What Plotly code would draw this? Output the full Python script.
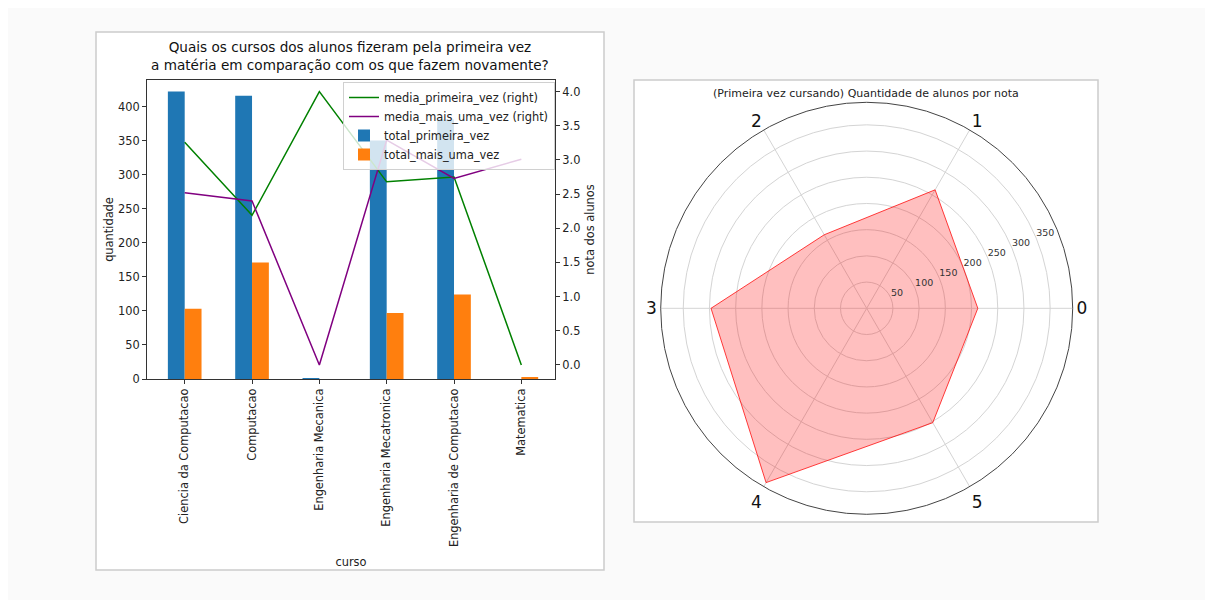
import plotly.graph_objects as go

# ---------------- data ----------------
cursos = ["Ciencia da Computacao", "Computacao", "Engenharia Mecanica",
          "Engenharia Mecatronica", "Engenharia de Computacao", "Matematica"]
total_primeira_vez = [422, 416, 1, 350, 381, 0]
total_mais_uma_vez = [103, 171, 0, 97, 124, 2]
media_primeira_vez = [3.26, 2.19, 4.0, 2.68, 2.75, 0.0]
media_mais_uma_vez = [2.52, 2.40, 0.0, 3.29, 2.73, 3.01]

notas = ["0", "1", "2", "3", "4", "5"]
qtd_por_nota = [212, 261, 162, 297, 384, 252]
radial_ticks = [50, 100, 150, 200, 250, 300, 350]

W, H = 1197, 592   # page window minus default body margin
OFF = 8
FONT = "DejaVu Sans"


def px(x):
    return (x - OFF) / W


def py(y):
    return 1 - (y - OFF) / H


xs = list(range(len(cursos)))
fig = go.Figure()

fig.add_trace(go.Scatter(x=xs, y=media_primeira_vez, name="media_primeira_vez (right)",
                         mode="lines", line=dict(color="green", width=1.5),
                         xaxis="x", yaxis="y2"))
fig.add_trace(go.Scatter(x=xs, y=media_mais_uma_vez, name="media_mais_uma_vez (right)",
                         mode="lines", line=dict(color="purple", width=1.5),
                         xaxis="x", yaxis="y2"))
fig.add_trace(go.Bar(x=xs, y=total_primeira_vez, name="total_primeira_vez",
                     width=0.25, offset=-0.25, marker=dict(color="#1f77b4", line=dict(width=0)),
                     xaxis="x", yaxis="y"))
fig.add_trace(go.Bar(x=xs, y=total_mais_uma_vez, name="total_mais_uma_vez",
                     width=0.25, offset=0.0, marker=dict(color="#ff7f0e", line=dict(width=0)),
                     xaxis="x", yaxis="y"))

# polar
theta_vals = [i * 60 for i in range(len(notas))]
fig.add_trace(go.Scatterpolar(r=qtd_por_nota + qtd_por_nota[:1],
                              theta=theta_vals + theta_vals[:1],
                              mode="lines", fill="toself",
                              fillcolor="rgba(255,0,0,0.25)",
                              line=dict(color="rgba(255,0,0,0.75)", width=1),
                              showlegend=False, subplot="polar", hoverinfo="skip"))
# horizontal radial tick labels (matplotlib style, at 22.5 deg)
fig.add_trace(go.Scatterpolar(r=radial_ticks, theta=[22.5] * len(radial_ticks),
                              mode="text", text=[str(t) for t in radial_ticks],
                              textposition="top right",
                              textfont=dict(size=9.5, family=FONT, color="#333"),
                              showlegend=False, subplot="polar", hoverinfo="skip"))

TF = dict(size=11.4, color="#222", family=FONT)
axis_common = dict(showgrid=False, zeroline=False, showline=True, linecolor="#333",
                   linewidth=1, ticks="outside", ticklen=4, tickcolor="#333",
                   tickfont=TF, automargin=False)

fig.update_layout(
    width=W, height=H, autosize=False,
    margin=dict(l=0, r=0, t=0, b=0, pad=0, autoexpand=False),
    paper_bgcolor="#fafafa", plot_bgcolor="white",
    font=dict(family=FONT, color="#222"),
    barmode="overlay",
    xaxis=dict(domain=[px(147), px(555)], range=[-0.56, 5.5],
               tickvals=xs, ticktext=cursos, tickangle=-90,
               title=dict(text="curso", font=dict(size=11.4, family=FONT), standoff=11),
               mirror=True, **axis_common),
    yaxis=dict(domain=[py(379), py(80)], range=[0, 439],
               tickvals=[0, 50, 100, 150, 200, 250, 300, 350, 400],
               title=dict(text="quantidade", font=dict(size=11.4, family=FONT), standoff=1),
               **axis_common),
    yaxis2=dict(overlaying="y", side="right", anchor="x", range=[-0.205, 4.17],
                tickvals=[0, 0.5, 1, 1.5, 2, 2.5, 3, 3.5, 4],
                ticktext=["0.0", "0.5", "1.0", "1.5", "2.0", "2.5", "3.0", "3.5", "4.0"],
                title=dict(text="nota dos alunos", font=dict(size=11.4, family=FONT), standoff=6),
                **axis_common),
    legend=dict(x=px(343), y=py(82), xanchor="left", yanchor="top",
                bgcolor="rgba(255,255,255,0.8)", bordercolor="#d0d0d0", borderwidth=1,
                font=dict(size=11.4, family=FONT, color="#222"), tracegroupgap=0,
                itemwidth=30),
    polar=dict(
        domain=dict(x=[px(660.7), px(1072.7)], y=[py(514.3), py(102.3)]),
        bgcolor="white",
        radialaxis=dict(range=[0, 393], tickvals=radial_ticks, showticklabels=False,
                        angle=22.5, showline=False, ticks="", gridcolor="#d4d4d4", gridwidth=1),
        angularaxis=dict(rotation=0, direction="counterclockwise",
                         tickvals=theta_vals, ticktext=notas, ticks="",
                         showline=True, linecolor="#444", linewidth=1,
                         gridcolor="#d4d4d4", gridwidth=1,
                         tickfont=dict(size=17, family=FONT, color="#111")),
    ),
    shapes=[
        dict(type="rect", xref="paper", yref="paper", x0=px(96), x1=px(604), y0=py(570), y1=py(32),
             fillcolor="white", line=dict(color="#cccccc", width=1.5), layer="below"),
        dict(type="rect", xref="paper", yref="paper", x0=px(634), x1=px(1098), y0=py(522), y1=py(80),
             fillcolor="white", line=dict(color="#cccccc", width=1.5), layer="below"),
    ],
    annotations=[
        dict(text="Quais os cursos dos alunos fizeram pela primeira vez<br>a matéria em comparação com os que fazem novamente?",
             xref="paper", yref="paper", x=px(350), y=py(56), xanchor="center", yanchor="middle",
             showarrow=False, font=dict(size=13.6, family=FONT, color="#111")),
        dict(text="(Primeira vez cursando) Quantidade de alunos por nota",
             xref="paper", yref="paper", x=px(866), y=py(93), xanchor="center", yanchor="middle",
             showarrow=False, font=dict(size=11, family=FONT, color="#222")),
    ],
)

fig.write_html("out.html")
